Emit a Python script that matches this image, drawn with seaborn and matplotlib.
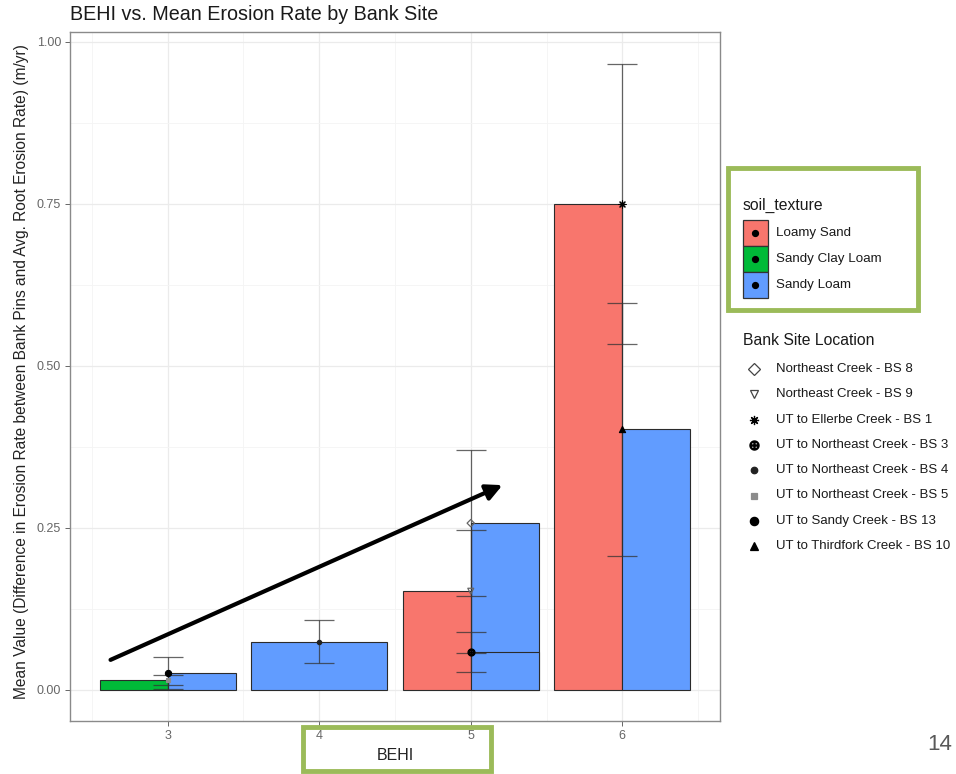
import matplotlib
matplotlib.use("Agg")
import matplotlib.pyplot as plt
import seaborn as sns
import numpy as np
import pandas as pd
from matplotlib.patches import FancyArrowPatch, Rectangle
from matplotlib.lines import Line2D

# ---------------- data ----------------
sites = ["Northeast Creek - BS 8", "Northeast Creek - BS 9", "UT to Ellerbe Creek - BS 1",
         "UT to Northeast Creek - BS 3", "UT to Northeast Creek - BS 4",
         "UT to Northeast Creek - BS 5", "UT to Sandy Creek - BS 13",
         "UT to Thirdfork Creek - BS 10"]
behi = [5, 5, 6, 5, 4, 3, 3, 6]
texture = ["Sandy Loam", "Loamy Sand", "Loamy Sand", "Sandy Loam", "Sandy Loam",
           "Sandy Clay Loam", "Sandy Loam", "Sandy Loam"]
mean_rate = [0.257, 0.152, 0.750, 0.058, 0.074, 0.015, 0.026, 0.402]
se_rate = [0.113, 0.095, 0.216, 0.031, 0.033, 0.008, 0.025, 0.195]

texture_levels = ["Loamy Sand", "Sandy Clay Loam", "Sandy Loam"]
texture_colors = ["#F8766D", "#00BA38", "#619CFF"]
site_markers = ["D", "v", (8, 2, 0), "$\\oplus$", "o", "s", "o", "^"]
site_sizes = [14, 18, 26, 26, 10, 12, 20, 20]
site_face = ["none", "none", "black", "black", "#222222", "#8c8c8c", "black", "black"]

df = pd.DataFrame({"site": sites, "BEHI": behi, "soil_texture": texture,
                   "mean": mean_rate, "se": se_rate})

# ---------------- style ----------------
sns.set_theme(style="whitegrid")
plt.rcParams["font.family"] = ["Liberation Sans", "DejaVu Sans"]

W, H = 956, 774
fig = plt.figure(figsize=(W / 100, H / 100), dpi=100)
ax = fig.add_axes([70 / W, 1 - 721 / H, 650 / W, 689 / H])
ax.set_facecolor("white")


def fx(px):
    return px / W


def fy(py):
    return 1 - py / H


# ---------------- bars (dodged by soil texture, width 0.9) ----------------
cmap = dict(zip(texture_levels, texture_colors))
for _, r in df.iterrows():
    present = [t for t in texture_levels if t in set(df.loc[df.BEHI == r.BEHI, "soil_texture"])]
    n = len(present)
    w = 0.9 / n
    i = present.index(r.soil_texture)
    xc = r.BEHI - 0.45 + w * (i + 0.5)
    ax.bar(xc, r["mean"], width=w, color=cmap[r.soil_texture], edgecolor="#2b2b2b",
           linewidth=0.8, zorder=2)

# ---------------- error bars and points ----------------
ax.errorbar(df.BEHI, df["mean"], yerr=df.se, fmt="none", ecolor="#333333",
            elinewidth=0.9, capsize=11, capthick=0.9, alpha=0.75, zorder=3)
for k, r in df.iterrows():
    m = site_markers[k]
    if site_face[k] == "none":
        sns.scatterplot(x=[r.BEHI], y=[r["mean"]], marker=m, s=site_sizes[k],
                        facecolors="none", edgecolor="#666666", linewidth=0.9, ax=ax, zorder=4)
    else:
        sns.scatterplot(x=[r.BEHI], y=[r["mean"]], marker=m, s=site_sizes[k],
                        color=site_face[k], edgecolor=site_face[k], linewidth=0.8, ax=ax, zorder=4)

# ---------------- axes ----------------
ax.set_xlim(2.355, 6.645)
ax.set_ylim(-0.0483, 1.0149)
ax.set_xticks([3, 4, 5, 6])
ax.set_xticklabels(["3", "4", "5", "6"])
ax.set_yticks([0, 0.25, 0.5, 0.75, 1.0])
ax.set_yticklabels(["0.00", "0.25", "0.50", "0.75", "1.00"])
ax.set_xticks([2.5, 3.5, 4.5, 5.5, 6.5], minor=True)
ax.set_yticks([0.125, 0.375, 0.625, 0.875], minor=True)
ax.grid(True, which="major", color="#EBEBEB", linewidth=0.9, zorder=0)
ax.grid(True, which="minor", color="#F4F4F4", linewidth=0.6, zorder=0)
ax.set_axisbelow(True)
ax.tick_params(axis="both", which="major", labelsize=9, colors="#666666",
               length=3.5, width=0.7, direction="out", left=True, bottom=True, pad=3)
ax.tick_params(axis="both", which="minor", length=0)
for s in ax.spines.values():
    s.set_color("#8a8a8a")
    s.set_linewidth(1.0)
ax.set_xlabel("BEHI", fontsize=11.5, color="#222222", labelpad=4)
ax.set_ylabel("Mean Value (Difference in Erosion Rate between Bank Pins and Avg. Root Erosion Rate) (m/yr)",
              fontsize=11.2, color="#222222")
ax.yaxis.set_label_coords(-0.063, 0.507)

fig.text(fx(70), fy(14), "BEHI vs. Mean Erosion Rate by Bank Site",
         fontsize=14.2, color="#1a1a1a", ha="left", va="center")

# ---------------- legend: soil_texture ----------------
fig.text(fx(743), fy(205), "soil_texture", fontsize=11.3, color="#1a1a1a",
         ha="left", va="center")
for i, (lab, col) in enumerate(zip(texture_levels, texture_colors)):
    top = 220 + 26 * i
    fig.add_artist(Rectangle((fx(742.5), fy(top + 26)), 25.5 / W, 26 / H,
                             transform=fig.transFigure, facecolor=col,
                             edgecolor="#333333", linewidth=0.9))
    fig.add_artist(Line2D([fx(755)], [fy(top + 13)], transform=fig.transFigure,
                          marker="o", ls="", color="black", markersize=4.2))
    fig.text(fx(776), fy(top + 13), lab, fontsize=9.6, color="#1a1a1a",
             ha="left", va="center")

# ---------------- legend: Bank Site Location ----------------
fig.text(fx(743), fy(340), "Bank Site Location", fontsize=11.3, color="#1a1a1a",
         ha="left", va="center")
for k, lab in enumerate(sites):
    yy = 369 + 25.3 * k
    if site_face[k] == "none":
        mk = Line2D([fx(754)], [fy(yy)], transform=fig.transFigure,
                    marker=site_markers[k], ls="", markerfacecolor="none",
                    markeredgecolor="#444444", markersize=np.sqrt(site_sizes[k]) + 2,
                    markeredgewidth=0.9)
    else:
        mk = Line2D([fx(754)], [fy(yy)], transform=fig.transFigure,
                    marker=site_markers[k], ls="", color=site_face[k],
                    markersize=np.sqrt(site_sizes[k]) + 1.5, markeredgewidth=0.9)
    fig.add_artist(mk)
    fig.text(fx(776), fy(yy), lab, fontsize=9.5, color="#1a1a1a",
             ha="left", va="center")

# ---------------- slide annotations ----------------
arrow = FancyArrowPatch((fx(108), fy(661)), (fx(505), fy(484)),
                        transform=fig.transFigure, arrowstyle="-|>", mutation_scale=24,
                        linewidth=3, color="black", zorder=10)
fig.add_artist(arrow)
green = "#9BBB59"
fig.add_artist(Rectangle((fx(728), fy(310)), 190 / W, 142 / H,
                         transform=fig.transFigure, fill=False, edgecolor=green,
                         linewidth=3.5, zorder=10))
fig.add_artist(Rectangle((fx(303), fy(771)), 188 / W, 44 / H,
                         transform=fig.transFigure, fill=False, edgecolor=green,
                         linewidth=3.5, zorder=10))
fig.text(fx(940), fy(745), "14", fontsize=16, color="#595959",
         ha="center", va="center")

fig.savefig("out.png", dpi=100, facecolor="white")
